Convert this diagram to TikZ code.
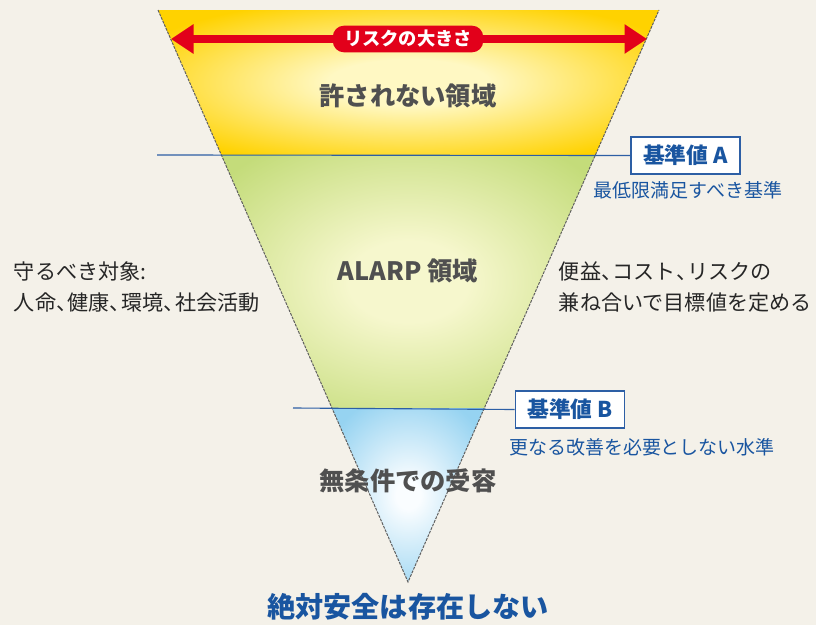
\documentclass[tikz,border=0pt]{standalone}
\usepackage{fontspec}
\setmainfont{Noto Sans CJK JP}
\usetikzlibrary{arrows.meta,calc}

\definecolor{bgcream}{RGB}{244,241,233}
\definecolor{riskred}{RGB}{226,0,26}
\definecolor{lineblue}{RGB}{45,95,165}
\definecolor{textblue}{RGB}{25,85,160}
\definecolor{labelgray}{RGB}{80,80,80}
\definecolor{edgegray}{RGB}{95,95,95}
\definecolor{yelcore}{RGB}{255,248,195}
\definecolor{yeledge}{RGB}{255,210,0}
\definecolor{grncore}{RGB}{246,247,205}
\definecolor{grnedge}{RGB}{196,220,122}
\definecolor{blucore}{RGB}{250,253,255}
\definecolor{bluedge}{RGB}{150,211,241}

\pgfdeclareradialshading{yelglow}{\pgfpointorigin}{color(0bp)=(yelcore); color(8bp)=(yelcore); color(30bp)=(yeledge); color(50bp)=(yeledge)}
\pgfdeclareradialshading{grnglow}{\pgfpointorigin}{color(0bp)=(grncore); color(8bp)=(grncore); color(32bp)=(grnedge); color(50bp)=(grnedge)}
\pgfdeclareradialshading{bluglow}{\pgfpointorigin}{color(0bp)=(blucore); color(4bp)=(blucore); color(30bp)=(bluedge); color(50bp)=(bluedge)}

\newcommand{\tc}{\makebox[0.55em][l]{、}} % 詰めた読点

\tikzset{
  edge/.style={edgegray, line width=0.7pt, dash pattern=on 2pt off 0.8pt},
  zone label/.style={font=\fontsize{18}{21}\selectfont\bfseries, text=labelgray},
  limit line/.style={lineblue, line width=0.8pt},
  limit box/.style={draw=lineblue, line width=1.1pt, fill=white, text=textblue,
    font=\fontsize{15.5}{18}\selectfont\bfseries, minimum height=26pt, inner xsep=8.5pt},
  note/.style={text=textblue, font=\fontsize{13.5}{16}\selectfont},
  side text/.style={text=black!85, font=\fontsize{15}{21.5}\selectfont, align=left, anchor=west},
  risk arrow/.style={riskred, line width=5pt, {Triangle[length=16pt,width=20pt]}-{Triangle[length=16pt,width=20pt]}},
}

\begin{document}
\begin{tikzpicture}[x=0.025cm, y=-0.025cm]
  % 背景
  \fill[bgcream] (0,0) rectangle (816,625);
  \useasboundingbox (0,0) rectangle (816,625);

  % 逆三角形
  \coordinate (tl) at (158,10);
  \coordinate (tr) at (659,10);
  \coordinate (apex) at (408,582);
  \coordinate (al) at ($(tl)!0.2535!(apex)$); % 基準値 A の高さ
  \coordinate (ar) at ($(tr)!0.2535!(apex)$);
  \coordinate (bl) at ($(tl)!0.6958!(apex)$); % 基準値 B の高さ
  \coordinate (br) at ($(tr)!0.6958!(apex)$);

  \shade[shading=yelglow] (tl) -- (tr) -- (ar) -- (al) -- cycle;
  \shade[shading=grnglow] (al) -- (ar) -- (br) -- (bl) -- cycle;
  \shade[shading=bluglow] (bl) -- (br) -- (apex) -- cycle;
  \draw[edge] (tl) -- (apex) -- (tr);

  % リスクの大きさ
  \coordinate (arrL) at (171,39);
  \coordinate (arrR) at (647,39);
  \draw[risk arrow] (arrL) -- (arrR);
  \node[fill=riskred, text=white, rounded corners=8pt, minimum height=17pt, inner xsep=8pt,
    font=\fontsize{13}{15}\selectfont\bfseries] (risk) at (408,39) {リスクの大きさ};

  % 領域の名前
  \node[zone label] (ng) at (408,96) {許されない領域};
  \node[zone label] (alarp) at (408,271) {ALARP 領域};
  \node[zone label] (ok) at (408,481) {無条件での受容};

  % 基準値 A
  \coordinate (startA) at (157,155);
  \node[limit box] (boxA) at (685.5,155.5) {基準値 A};
  \draw[limit line] (startA) -- (boxA.west);
  \node[note] (noteA) at (688,190) {最低限満足すべき基準};

  % 基準値 B
  \coordinate (startB) at (293,408);
  \node[limit box] (boxB) at (570,409.5) {基準値 B};
  \draw[limit line] (startB) -- (boxB.west);
  \node[note] (noteB) at (642,447) {更なる改善を必要としない水準};

  % 左右の説明
  \node[side text] (target) at (9,287) {守るべき対象:\\人命\tc 健康\tc 環境\tc 社会活動};
  \node[side text] (balance) at (554,287) {便益\tc コスト\tc リスクの\\兼ね合いで目標値を定める};

  % 下の一言
  \node[text=textblue, font=\fontsize{20}{24}\selectfont\bfseries] (nosafe) at (408,607) {絶対安全は存在しない};
\end{tikzpicture}
\end{document}
